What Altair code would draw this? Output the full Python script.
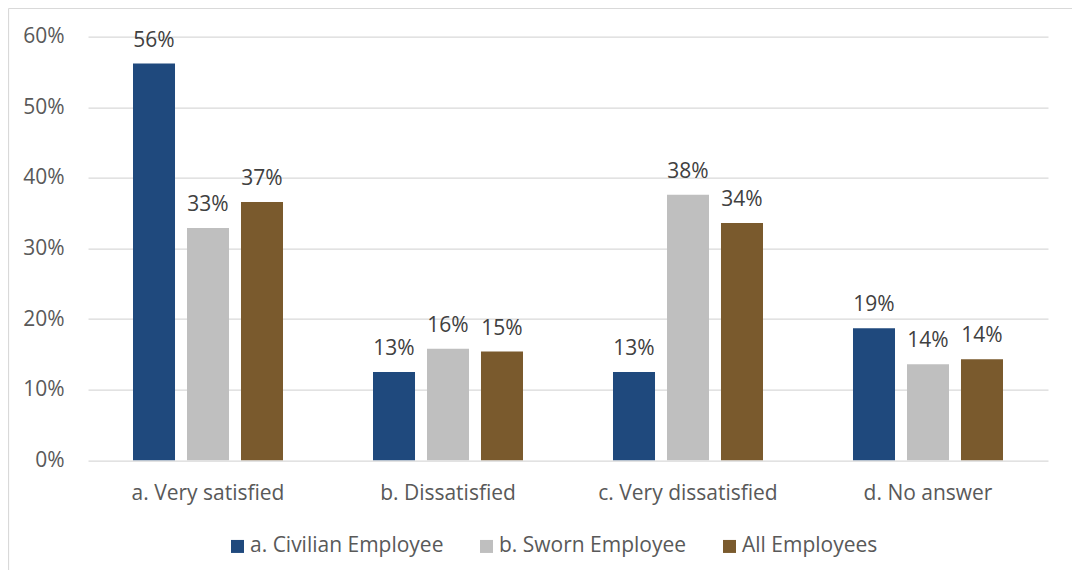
import altair as alt
import pandas as pd

categories = ["a. Very satisfied", "b. Dissatisfied", "c. Very dissatisfied", "d. No answer"]
series = ["a. Civilian Employee", "b. Sworn Employee", "All Employees"]
civilian = [0.562, 0.125, 0.125, 0.187]
sworn = [0.329, 0.158, 0.376, 0.136]
all_emp = [0.366, 0.154, 0.336, 0.143]
colors = ["#1F497D", "#BFBFBF", "#7A5A2D"]
y_ticks = [0.0, 0.1, 0.2, 0.3, 0.4, 0.5, 0.6]

rows = []
for s, vals in zip(series, [civilian, sworn, all_emp]):
    for c, v in zip(categories, vals):
        rows.append({"category": c, "series": s, "value": v})
df = pd.DataFrame(rows)

FONT = "Open Sans"
FS = 21

x_enc = alt.X("category:N", sort=categories,
              scale=alt.Scale(paddingInner=0.375, paddingOuter=0.1875),
              axis=alt.Axis(title=None, labelAngle=0, labelFontSize=FS, labelFont=FONT,
                            labelColor="#595959", labelPadding=22, ticks=False, domain=False))
xo_enc = alt.XOffset("series:N", sort=series,
                     scale=alt.Scale(paddingInner=0.222, paddingOuter=0))
y_enc = alt.Y("value:Q", scale=alt.Scale(domain=[0, 0.6], nice=False),
              axis=alt.Axis(title=None, format=".0%", values=y_ticks, labelFontSize=FS,
                            labelFont=FONT, labelColor="#595959", labelPadding=24,
                            ticks=False, domain=False, gridColor="#D9D9D9", gridWidth=1.2))

bars = alt.Chart(df).mark_bar().encode(
    x=x_enc, xOffset=xo_enc, y=y_enc,
    color=alt.Color("series:N", sort=series,
                    scale=alt.Scale(domain=series, range=colors),
                    legend=alt.Legend(orient="none", legendX=139, legendY=499,
                                      direction="horizontal", title=None,
                                      symbolType="square", symbolSize=169,
                                      symbolStrokeWidth=0, labelFontSize=FS,
                                      labelColor="#595959", labelFont=FONT,
                                      labelLimit=500,
                                      labelOffset=2, columnPadding=32, padding=0)),
)

labels = alt.Chart(df).mark_text(dy=-17, baseline="alphabetic", fontSize=FS,
                                 font=FONT, color="#404040").encode(
    x=alt.X("category:N", sort=categories), xOffset=alt.XOffset("series:N", sort=series),
    y="value:Q", text=alt.Text("value:Q", format=".0%"),
)

one = alt.Data(values=[{"k": 1}])
border_left = alt.Chart(one).mark_rule(color="#D9D9D9", strokeWidth=1.2).encode(
    x=alt.value(-79.5), y=alt.value(-28.2), y2=alt.value(700))
border_top = alt.Chart(one).mark_rule(color="#D9D9D9", strokeWidth=1.2).encode(
    x=alt.value(-79.5), x2=alt.value(1100), y=alt.value(-28.2))

chart = alt.layer(bars, labels, border_left, border_top).properties(
    width=960, height=423.6,
    padding={"left": 80, "top": 28.7, "right": 24, "bottom": 110},
    autosize=alt.AutoSizeParams(type="none"),
    background="white",
).configure_view(stroke=None)

chart.save("out.html", embed_options={"renderer": "svg", "actions": False})
